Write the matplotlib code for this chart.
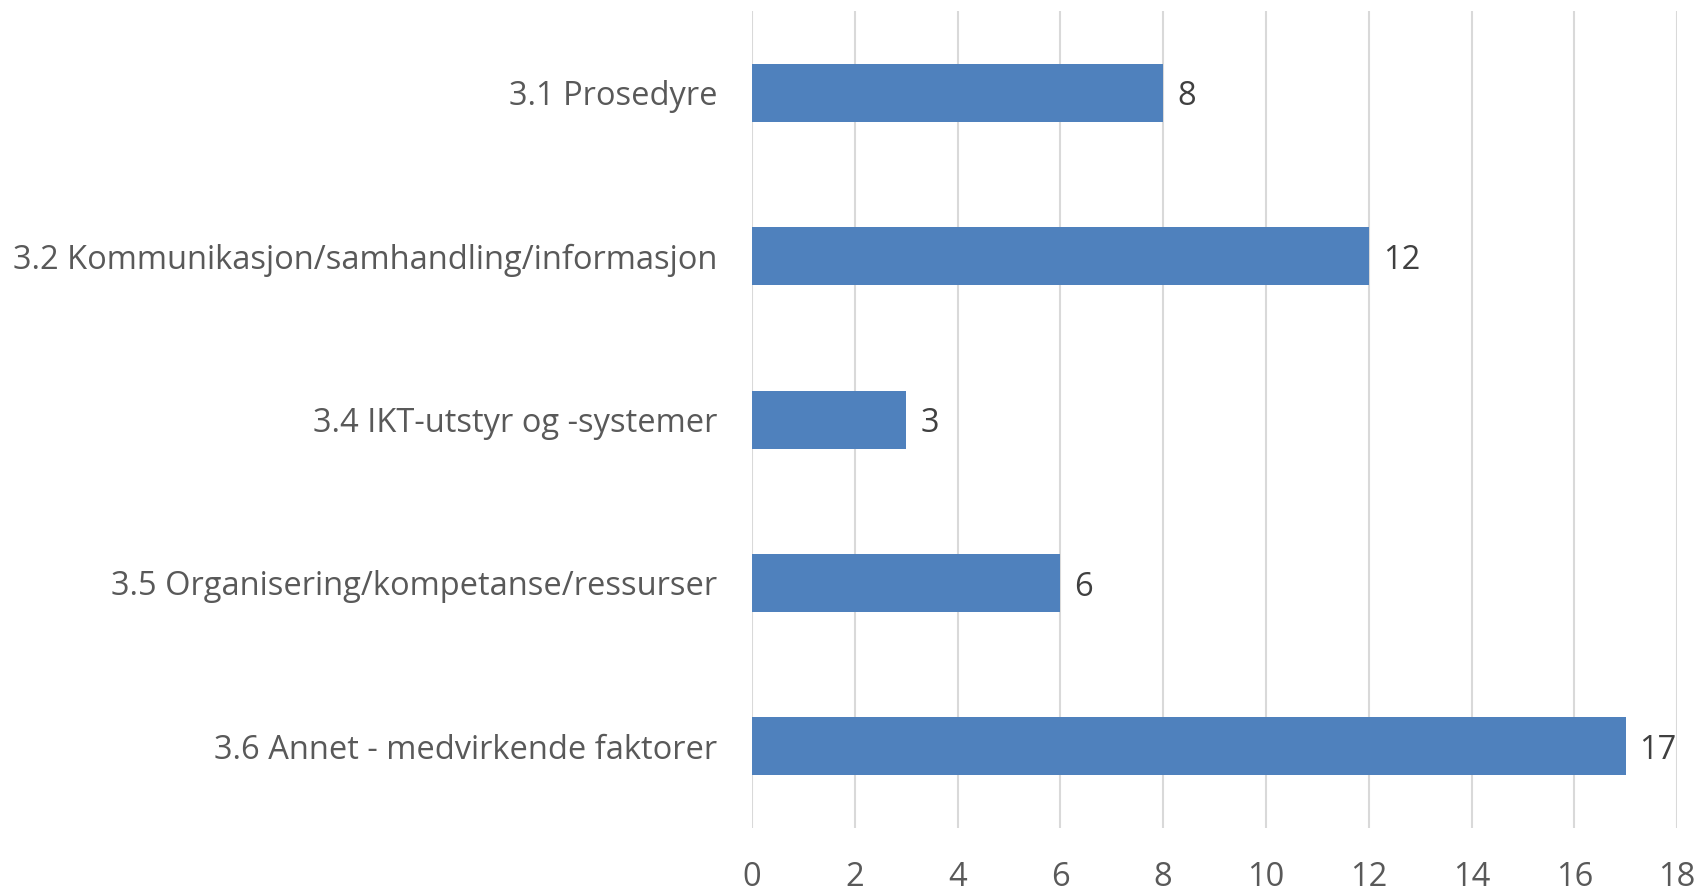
import matplotlib.pyplot as plt
import numpy as np

categories = ["3.1 Prosedyre",
              "3.2 Kommunikasjon/samhandling/informasjon",
              "3.4 IKT-utstyr og -systemer",
              "3.5 Organisering/kompetanse/ressurser",
              "3.6 Annet - medvirkende faktorer"]
values = [8, 12, 3, 6, 17]
xticks = np.arange(0, 19, 2)

plt.rcParams['font.family'] = ['Open Sans', 'DejaVu Sans']

fig = plt.figure(figsize=(17, 8.92), dpi=100)
ax = fig.add_axes([0.4424, 0.0717, 0.5441, 0.916])

y = np.arange(len(categories))
bars = ax.barh(y, values, height=0.355, color="#4f81bd", zorder=3)

for bar, v in zip(bars, values):
    ax.annotate(str(v), (bar.get_width(), bar.get_y() + bar.get_height() / 2),
                xytext=(10, -3), textcoords="offset points",
                ha="left", va="center", fontsize=23.5, color="#404040")

ax.set_xlim(0, 18)
ax.set_ylim(len(categories) - 0.5, -0.5)
ax.set_xticks(xticks)
ax.set_yticks(y)
ax.set_yticklabels(categories, fontsize=23.5, color="#595959")
ax.tick_params(axis="x", labelsize=23.5, labelcolor="#595959", length=0, pad=24)
ax.tick_params(axis="y", length=0, pad=25)
ax.grid(True, axis="x", color="#d9d9d9", linewidth=1.5, zorder=0)
for s in ax.spines.values():
    s.set_visible(False)

plt.savefig("out.png", dpi=100)
